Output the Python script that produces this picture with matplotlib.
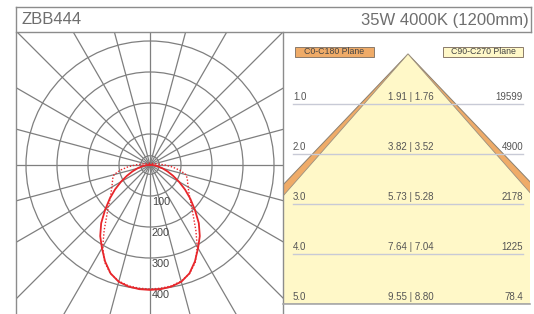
import numpy as np
import matplotlib.pyplot as plt
from matplotlib.patches import Polygon, Rectangle, Circle

plt.rcParams['font.family'] = ['Liberation Sans', 'DejaVu Sans']

W, H = 534, 314

title_left = "ZBB444"
title_right = "35W 4000K (1200mm)"

# luminous intensity (cd/klm), angle measured from nadir
angles = [0, 5, 10, 15, 20, 25, 30, 35, 40, 45, 50, 55, 60, 65, 70, 75, 80, 85,
          90, 95, 100, 110, 120, 140, 160, 180]
c0_c180 = [403, 402, 398, 390, 372, 343, 310, 280, 245, 205, 170, 138, 108, 82,
           60, 42, 27, 15, 6, 3, 2, 1, 0, 0, 0, 0]
c90_c270 = [400, 399, 396, 388, 373, 346, 305, 258, 218, 190, 168, 153, 142, 134,
            128, 120, 98, 72, 48, 30, 20, 12, 9, 7, 6, 6]
grid_radii = [30, 100, 200, 300, 400]
radius_labels = ["100", "200", "300", "400"]

# illuminance cone table
heights = [1.0, 2.0, 3.0, 4.0, 5.0]
width_c0 = [1.91, 3.82, 5.73, 7.64, 9.55]
width_c90 = [1.76, 3.52, 5.28, 7.04, 8.80]
lux = ["19599", "4900", "2178", "1225", "78.4"]

grid_col = '#7f7f7f'
frame_col = '#8c8c8c'
red = '#e8262b'
orange = '#efab68'
yellow = '#fff8c8'
txt_col = '#555555'


def px(x0, y0, x1, y1):
    return [x0 / W, 1 - y1 / H, (x1 - x0) / W, (y1 - y0) / H]


fig = plt.figure(figsize=(W / 100, H / 100), dpi=100)

# ---- polar diagram ----
ax = fig.add_axes(px(16, 32, 283, 314))
s = 100 / 31.0
cx, cy = 150, 165
ax.set_xlim((16 - cx) * s, (283 - cx) * s)
ax.set_ylim((cy - 314) * s, (cy - 32) * s)
ax.axis('off')

for a in range(0, 360, 15):
    t = np.deg2rad(a)
    ax.plot([0, 800 * np.cos(t)], [0, 800 * np.sin(t)], color=grid_col, lw=0.9, zorder=1)
for r in grid_radii:
    ax.add_patch(Circle((0, 0), r, fill=False, ec=grid_col, lw=0.9, zorder=1))
for r, lab in zip(grid_radii[1:], radius_labels):
    ax.text(6, -r - 19, lab, ha='left', va='center', fontsize=7.8, color='#444444', zorder=2)


def curve(vals):
    th = np.deg2rad(np.array(angles, dtype=float))
    r = np.array(vals, dtype=float)
    x = np.concatenate([-(r * np.sin(th))[::-1], r * np.sin(th)])
    y = np.concatenate([(-r * np.cos(th))[::-1], -r * np.cos(th)])
    return x, y


x, y = curve(c90_c270)
ax.plot(x, y, color=red, lw=1.0, ls=(0, (1, 1.3)), zorder=3)
x, y = curve(c0_c180)
ax.plot(x, y, color=red, lw=1.3, zorder=4)

# ---- illuminance cone ----
ax2 = fig.add_axes(px(283, 32, 530, 304))
ax2.set_xlim((283 - 408) / 50, (530 - 408) / 50)
ax2.set_ylim(5.0, (32 - 54) / 50)
ax2.axis('off')

h = heights[-1]
ax2.add_patch(Polygon([(0, 0), (-width_c0[-1] / 2, h), (width_c0[-1] / 2, h)],
                      closed=True, fc=orange, ec='#8a8070', lw=0.7, zorder=1))
ax2.add_patch(Polygon([(0, 0), (-width_c90[-1] / 2, h), (width_c90[-1] / 2, h)],
                      closed=True, fc=yellow, ec='#9a9080', lw=0.6, zorder=2))

for hh, w0, w90, lx in zip(heights, width_c0, width_c90, lux):
    if hh < heights[-1]:
        ax2.plot([-2.3, 2.3], [hh, hh], color='#c8cad6', lw=1.0, zorder=3)
    ax2.text(-2.3, hh - 0.04, "%.1f" % hh, ha='left', va='bottom', fontsize=7, color=txt_col, zorder=4)
    ax2.text(0.06, hh - 0.04, "%.2f | %.2f" % (w0, w90), ha='center', va='bottom',
             fontsize=7, color=txt_col, zorder=4)
    ax2.text(2.3, hh - 0.04, lx, ha='right', va='bottom', fontsize=7, color=txt_col, zorder=4)

ax2.add_patch(Rectangle((-2.26, -0.14), 1.58, 0.2, fc=orange, ec='#8a7a6a', lw=0.7, zorder=5))
ax2.text(-1.47, -0.04, "C0-C180 Plane", ha='center', va='center', fontsize=6.3, color='#444444', zorder=6)
ax2.add_patch(Rectangle((0.7, -0.14), 1.6, 0.2, fc=yellow, ec='#8a7a6a', lw=0.7, zorder=5))
ax2.text(1.5, -0.04, "C90-C270 Plane", ha='center', va='center', fontsize=6.3, color='#444444', zorder=6)

# ---- frame and header ----
ov = fig.add_axes([0, 0, 1, 1])
ov.set_xlim(0, W)
ov.set_ylim(H, 0)
ov.axis('off')
ov.patch.set_alpha(0)
for (x0, y0, x1, y1) in [(16, 7, 531, 7), (16, 7, 16, 314), (531, 7, 531, 32),
                         (16, 32, 531, 32), (283, 32, 283, 314)]:
    ov.plot([x0, x1], [y0, y1], color=frame_col, lw=1.0)
ov.plot([283, 530], [304, 304], color='#a8a8a8', lw=1.2)

ov.text(21, 20, title_left, ha='left', va='center', fontsize=12, color='#6e6e6e')
ov.text(529, 20, title_right, ha='right', va='center', fontsize=12, color='#6e6e6e')

fig.savefig('out.png', dpi=100)
